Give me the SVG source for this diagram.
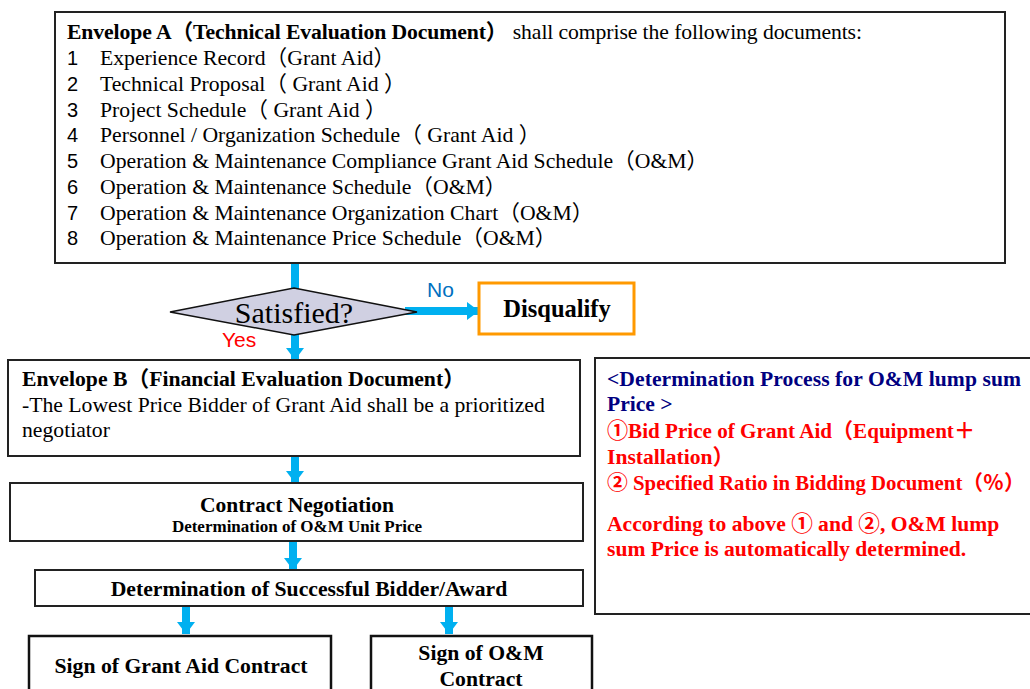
<svg xmlns="http://www.w3.org/2000/svg" width="1030" height="689" viewBox="0 0 1030 689">
  <style>
    .box { fill: #ffffff; stroke: #222222; stroke-width: 2; }
    .serif { font-family: "Liberation Serif", "Noto Sans CJK JP", serif; }
    .sans { font-family: "Liberation Sans", "Noto Sans CJK JP", sans-serif; }
    .b { font-weight: bold; }
    .t21 { font-size: 21.7px; fill: #000000; }
    .num { font-family: "Liberation Sans", sans-serif; font-size: 20px; fill: #000000; }
    .flow { stroke: #00B0F0; stroke-width: 8; fill: none; }
    .navy { fill: #000080; font-size: 21.6px; }
    .red { fill: #FF0000; font-size: 21.6px; }
  </style>
  <defs>
    <marker id="head" markerUnits="userSpaceOnUse" viewBox="0 0 12 18" markerWidth="12" markerHeight="18" refX="12" refY="9" orient="auto">
      <path d="M0,0 L12,9 L0,18 Z" fill="#00B0F0"/>
    </marker>
  </defs>

  <rect width="1030" height="689" fill="#ffffff"/>

  <!-- connectors -->
  <g id="connectors">
    <line class="flow" x1="295" y1="263" x2="295" y2="360" marker-end="url(#head)"/>
    <line class="flow" x1="405" y1="311" x2="479" y2="311" marker-end="url(#head)"/>
    <line class="flow" x1="295" y1="456" x2="295" y2="483" marker-end="url(#head)"/>
    <line class="flow" x1="293" y1="542" x2="293" y2="570" marker-end="url(#head)"/>
    <line class="flow" x1="186" y1="606" x2="186" y2="634" marker-end="url(#head)"/>
    <line class="flow" x1="449" y1="607" x2="449" y2="634" marker-end="url(#head)"/>
    <text class="sans" x="427" y="297" font-size="21" fill="#0070C0">No</text>
    <text class="sans" x="222" y="347" font-size="21" fill="#FF0000">Yes</text>
  </g>

  <!-- Envelope A: list of technical documents -->
  <g id="envelope-a">
    <rect class="box" x="55" y="12" width="950" height="251"/>
    <text class="serif t21" x="67" y="39" textLength="795" lengthAdjust="spacing"><tspan class="b">Envelope A（Technical Evaluation Document）</tspan> shall comprise the following documents:</text>
    <text class="num" x="67" y="65">1</text>
    <text class="serif t21" x="100" y="65">Experience Record（Grant Aid）</text>
    <text class="num" x="67" y="91">2</text>
    <text class="serif t21" x="100" y="91">Technical Proposal（ Grant Aid ）</text>
    <text class="num" x="67" y="117">3</text>
    <text class="serif t21" x="100" y="117">Project Schedule（ Grant Aid ）</text>
    <text class="num" x="67" y="142">4</text>
    <text class="serif t21" x="100" y="142">Personnel / Organization Schedule（ Grant Aid ）</text>
    <text class="num" x="67" y="168">5</text>
    <text class="serif t21" x="100" y="168">Operation &amp; Maintenance Compliance Grant Aid Schedule（O&amp;M）</text>
    <text class="num" x="67" y="194">6</text>
    <text class="serif t21" x="100" y="194">Operation &amp; Maintenance Schedule（O&amp;M）</text>
    <text class="num" x="67" y="220">7</text>
    <text class="serif t21" x="100" y="220">Operation &amp; Maintenance Organization Chart（O&amp;M）</text>
    <text class="num" x="67" y="245">8</text>
    <text class="serif t21" x="100" y="245">Operation &amp; Maintenance Price Schedule（O&amp;M）</text>
  </g>

  <!-- decision -->
  <g id="satisfied">
    <polygon points="170,312 294,288 417,312 294,335" fill="#D0D0E2" stroke="#111111" stroke-width="1.5"/>
    <text class="serif" x="294" y="323" font-size="30" text-anchor="middle" fill="#000000">Satisfied?</text>
  </g>

  <g id="disqualify">
    <rect x="479" y="283" width="155" height="51" fill="#ffffff" stroke="#FF9900" stroke-width="3"/>
    <text class="serif b" x="557" y="317" font-size="24.5" text-anchor="middle" fill="#000000">Disqualify</text>
  </g>

  <!-- Envelope B -->
  <g id="envelope-b">
    <rect class="box" x="8" y="360" width="572" height="96"/>
    <text class="serif t21 b" x="22" y="386">Envelope B（Financial Evaluation Document）</text>
    <text class="serif t21" x="22" y="412">-The Lowest Price Bidder of Grant Aid shall be a prioritized</text>
    <text class="serif t21" x="22" y="437">negotiator</text>
  </g>

  <g id="contract-negotiation">
    <rect class="box" x="10" y="483" width="573" height="58"/>
    <text class="serif b" x="297" y="512" font-size="21.5" text-anchor="middle" fill="#000000">Contract Negotiation</text>
    <text class="serif b" x="297" y="532" font-size="17" text-anchor="middle" fill="#000000">Determination of O&amp;M Unit Price</text>
  </g>

  <g id="successful-bidder">
    <rect class="box" x="35" y="570" width="548" height="36"/>
    <text class="serif b" x="309" y="596" font-size="21.7" text-anchor="middle" fill="#000000">Determination of Successful Bidder/Award</text>
  </g>

  <g id="sign-grant-aid">
    <rect x="29" y="636" width="302" height="70" fill="#ffffff" stroke="#111111" stroke-width="2.5"/>
    <text class="serif b" x="181" y="673" font-size="21.7" text-anchor="middle" fill="#000000">Sign of Grant Aid Contract</text>
  </g>

  <g id="sign-om">
    <rect x="371" y="636" width="221" height="70" fill="#ffffff" stroke="#111111" stroke-width="2.5"/>
    <text class="serif b" x="481" y="660" font-size="21.7" text-anchor="middle" fill="#000000">Sign of O&amp;M</text>
    <text class="serif b" x="481" y="686" font-size="21.7" text-anchor="middle" fill="#000000">Contract</text>
  </g>

  <!-- O&M lump sum price note -->
  <g id="om-price-note">
    <rect class="box" x="595" y="358" width="445" height="256"/>
    <text class="serif b navy" x="607" y="386" textLength="414" lengthAdjust="spacing">&lt;Determination Process for O&amp;M lump sum</text>
    <text class="serif b navy" x="607" y="411">Price &gt;</text>
    <text class="serif b red" x="607" y="438" style="font-size:21.1px">①Bid Price of Grant Aid（Equipment＋</text>
    <text class="serif b red" x="607" y="464">Installation）</text>
    <text class="serif b red" x="607" y="490" style="font-size:20.8px">② Specified Ratio in Bidding Document（％）</text>
    <text class="serif b red" x="607" y="531">According to above ① and ②, O&amp;M lump</text>
    <text class="serif b red" x="607" y="556">sum Price is automatically determined.</text>
  </g>
</svg>
